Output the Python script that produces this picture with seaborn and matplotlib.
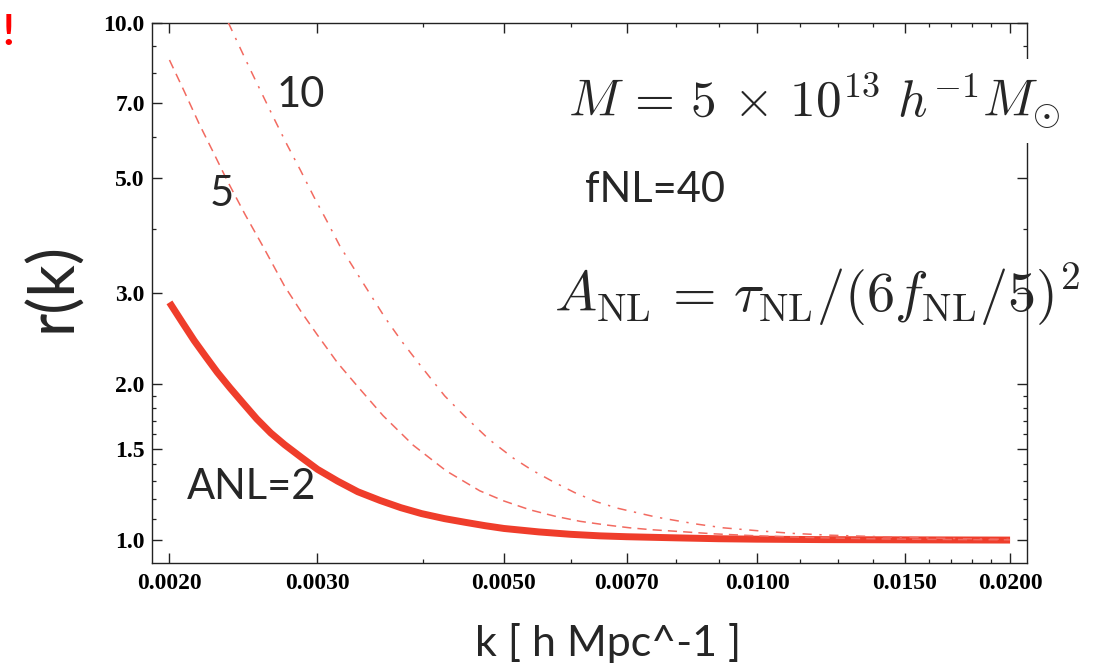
import matplotlib
matplotlib.use("Agg")
import matplotlib.pyplot as plt
import seaborn as sns
import pandas as pd
from matplotlib.ticker import NullFormatter

# ---- data ----
k_anl2 = [0.0020, 0.00207, 0.00214, 0.00221, 0.00228, 0.00236, 0.00245, 0.00254,
          0.00264, 0.00274, 0.00287, 0.0030, 0.00317, 0.00335, 0.00356, 0.00377,
          0.00399, 0.00425, 0.0045, 0.00475, 0.0050, 0.0055, 0.0060, 0.0065,
          0.0070, 0.0080, 0.0090, 0.0100, 0.0120, 0.0150, 0.0200]
r_anl2 = [2.88, 2.64, 2.43, 2.26, 2.11, 1.97, 1.835, 1.715,
          1.61, 1.53, 1.445, 1.37, 1.30, 1.24, 1.193, 1.155,
          1.125, 1.10, 1.082, 1.066, 1.053, 1.037, 1.026, 1.019,
          1.015, 1.010, 1.006, 1.004, 1.002, 1.001, 1.000]

k_anl5 = [0.0020, 0.00208, 0.00217, 0.00225, 0.00234, 0.00246, 0.00259, 0.00274,
          0.00287, 0.0030, 0.00317, 0.00335, 0.00359, 0.0039, 0.00427, 0.00468,
          0.0050, 0.00537, 0.00575, 0.00616, 0.0066, 0.00706, 0.0075, 0.0080,
          0.0089, 0.0100, 0.0110, 0.0120, 0.0135, 0.0150, 0.0200]
r_anl5 = [8.47, 7.40, 6.37, 5.66, 4.97, 4.26, 3.67, 3.10,
          2.76, 2.49, 2.20, 1.98, 1.74, 1.525, 1.36, 1.245,
          1.19, 1.144, 1.112, 1.087, 1.07, 1.056, 1.047, 1.040,
          1.028, 1.019, 1.014, 1.010, 1.006, 1.004, 1.001]

k_anl10 = [0.00235, 0.00243, 0.0025, 0.00258, 0.002658, 0.00276, 0.002866, 0.00297,
           0.00308, 0.00319, 0.00335, 0.00361, 0.00378, 0.003973, 0.00425, 0.004515,
           0.0048, 0.00513, 0.0054, 0.005724, 0.00607, 0.00644, 0.00683, 0.00726,
           0.0076, 0.00803, 0.0085, 0.00912, 0.01012, 0.01105, 0.01221, 0.0140,
           0.0170, 0.0200]
r_anl10 = [10.0, 8.9, 8.07, 7.26, 6.57, 5.81, 5.17, 4.61,
           4.13, 3.70, 3.26, 2.69, 2.42, 2.18, 1.90, 1.72,
           1.565, 1.44, 1.365, 1.296, 1.235, 1.186, 1.152, 1.126,
           1.107, 1.09, 1.073, 1.056, 1.041, 1.030, 1.022, 1.015,
           1.007, 1.003]

x_ticks = [0.002, 0.003, 0.005, 0.007, 0.010, 0.015, 0.020]
x_tick_labels = ["0.0020", "0.0030", "0.0050", "0.0070", "0.0100", "0.0150", "0.0200"]
x_minor = [0.004, 0.006, 0.008, 0.009, 0.01125, 0.0125, 0.01375,
           0.016, 0.017, 0.018, 0.019]
y_ticks = [1.0, 1.5, 2.0, 3.0, 5.0, 7.0, 10.0]
y_tick_labels = ["1.0", "1.5", "2.0", "3.0", "5.0", "7.0", "10.0"]
y_minor = [1.1, 1.2, 1.3, 1.4, 1.6, 1.7, 1.8, 1.9, 4.0, 6.0, 8.0, 9.0]

# ---- style ----
sns.set_theme(style="ticks")
plt.rcParams["font.family"] = ["Lato", "DejaVu Sans"]
plt.rcParams["mathtext.fontset"] = "cm"
plt.rcParams["axes.edgecolor"] = "#222222"
plt.rcParams["axes.linewidth"] = 1.0

W, H = 1097, 666
fig = plt.figure(figsize=(W / 100, H / 100), dpi=100)
fig.patch.set_facecolor("white")
ax = fig.add_axes([151.7 / W, 1 - 563 / H, (1027 - 151.7) / W, (563 - 22.7) / H])
ax.set_facecolor("white")
ax.set_xscale("log")
ax.set_yscale("log")

solid_c = "#ef3d2b"
thin_c = "#f26a60"

df5 = pd.DataFrame({"k": k_anl5, "r": r_anl5})
df10 = pd.DataFrame({"k": k_anl10, "r": r_anl10})
df2 = pd.DataFrame({"k": k_anl2, "r": r_anl2})

sns.lineplot(data=df5, x="k", y="r", ax=ax, color=thin_c, lw=1.1,
             linestyle=(0, (6, 4)), estimator=None, sort=False, zorder=3)
sns.lineplot(data=df10, x="k", y="r", ax=ax, color=thin_c, lw=1.1,
             linestyle=(0, (6, 5, 1.5, 5)), estimator=None, sort=False, zorder=3)
sns.lineplot(data=df2, x="k", y="r", ax=ax, color=solid_c, lw=5.0,
             solid_capstyle="butt", solid_joinstyle="round",
             estimator=None, sort=False, zorder=2)

ax.set_xlim(0.001905, 0.02095)
ax.set_ylim(0.903, 10.0)

tick_font = dict(fontfamily="Liberation Serif", fontweight="bold", fontsize=17)
ax.set_xticks(x_ticks, labels=x_tick_labels, **tick_font)
ax.set_yticks(y_ticks, labels=y_tick_labels, **tick_font)
ax.set_xticks(x_minor, minor=True)
ax.set_yticks(y_minor, minor=True)
ax.xaxis.set_minor_formatter(NullFormatter())
ax.yaxis.set_minor_formatter(NullFormatter())
ax.tick_params(which="major", direction="in", length=7.2, width=1.0,
               top=True, right=True, colors="#222222", labelcolor="black")
ax.tick_params(which="minor", direction="in", length=3.0, width=0.9,
               top=True, right=True, colors="#222222")
ax.tick_params(axis="x", which="major", pad=7)
ax.tick_params(axis="y", which="major", pad=5)
ax.set_xlabel("")
ax.set_ylabel("")

# ---- texts (figure pixel positions) ----
def fx(px):
    return px / W

def fy(py):
    return 1 - py / H

fig.text(fx(608), fy(643), "k [ h Mpc^-1 ]", fontsize=31, ha="center", va="center")
fig.text(fx(53), fy(287), "r(k)", fontsize=46, rotation=90, ha="center", va="center")
fig.text(fx(8), fy(33), "!", fontsize=30, color="red", fontweight="bold",
         ha="center", va="center")

fig.text(fx(301), fy(95), "10", fontsize=30, ha="center", va="center")
fig.text(fx(222), fy(194), "5", fontsize=30, ha="center", va="center")
fig.text(fx(655), fy(190), "fNL=40", fontsize=30, ha="center", va="center")
fig.text(fx(252), fy(487), "ANL=2", fontsize=30, ha="center", va="center")

fig.text(fx(814), fy(101), r"$M\,=\,5\,\times\,10^{13}\ h^{-1}M_{\odot}$",
         fontsize=37, ha="center", va="center", zorder=10,
         bbox=dict(facecolor="white", edgecolor="none", pad=8))
fig.text(fx(817), fy(295), r"$A_{\mathrm{NL}}\,=\,\tau_{\mathrm{NL}}/(6f_{\mathrm{NL}}/5)^2$",
         fontsize=40.5, ha="center", va="center", zorder=10)

fig.savefig("out.png", dpi=100, facecolor="white")
